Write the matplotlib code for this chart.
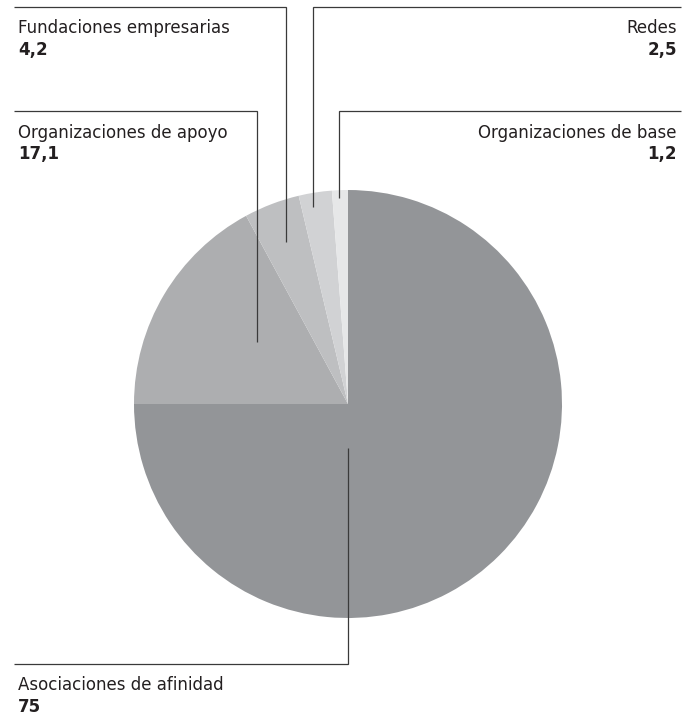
import numpy as np
import matplotlib
matplotlib.use("Agg")
import matplotlib.pyplot as plt

# Data
categories = ["Asociaciones de afinidad", "Organizaciones de apoyo",
              "Fundaciones empresarias", "Redes", "Organizaciones de base"]
values = [75, 17.1, 4.2, 2.5, 1.2]
value_labels = ["75", "17,1", "4,2", "2,5", "1,2"]
colors = ["#939598", "#adaeb0", "#bebfc1", "#d1d2d4", "#e6e7e8"]

W, H = 695, 714
fig = plt.figure(figsize=(W / 100, H / 100), dpi=100)
ax = fig.add_axes([0, 0, 1, 1])

cx, cy, R = 348, H - 404, 214
wedges, _ = ax.pie(values, colors=colors, startangle=90, counterclock=False,
                   center=(cx, cy), radius=R, frame=True,
                   wedgeprops=dict(linewidth=0))
ax.set_xlim(0, W)
ax.set_ylim(0, H)
ax.set_aspect("equal")
ax.axis("off")

def py(y):
    return H - y

# Layout per category: anchor position along the wedge (t, measured clockwise
# from the wedge start) and radius fraction (rf), label side, leader row y and
# text baseline y (pixels from top)
layout = {
    0: dict(t=None, ang=-90, rf=0.205, side="left", line_y=664, base=690),
    1: dict(t=0.557, rf=0.514, side="left", line_y=111, base=138),
    2: dict(t=0.5, rf=0.81, side="left", line_y=7, base=33),
    3: dict(t=0.361, rf=0.935, side="right", line_y=7, base=33),
    4: dict(t=0.42, rf=0.963, side="right", line_y=111, base=138),
}
lc = "#3a3a3a"
lw = 0.9
for i, w in enumerate(wedges):
    L = layout[i]
    if L.get("t") is not None:
        hi, lo = max(w.theta1, w.theta2), min(w.theta1, w.theta2)
        ang = hi - L["t"] * (hi - lo)
    else:
        ang = L["ang"]
    ax_ = cx + L["rf"] * R * np.cos(np.radians(ang))
    ay_ = cy + L["rf"] * R * np.sin(np.radians(ang))
    ly = py(L["line_y"])
    if L["side"] == "left":
        ax.plot([14, ax_, ax_], [ly, ly, ay_], color=lc, lw=lw,
                solid_joinstyle="miter", solid_capstyle="butt")
        tx, ha = 18, "left"
    else:
        ax.plot([681, ax_, ax_], [ly, ly, ay_], color=lc, lw=lw,
                solid_joinstyle="miter", solid_capstyle="butt")
        tx, ha = 677, "right"
    b = py(L["base"])
    ax.text(tx, b, categories[i], ha=ha, va="baseline", fontsize=12,
            color="#231f20", family="DejaVu Sans")
    ax.text(tx, b - 21.5, value_labels[i], ha=ha, va="baseline", fontsize=12,
            fontweight="bold", color="#231f20", family="DejaVu Sans")

fig.savefig("out.png", dpi=100)
